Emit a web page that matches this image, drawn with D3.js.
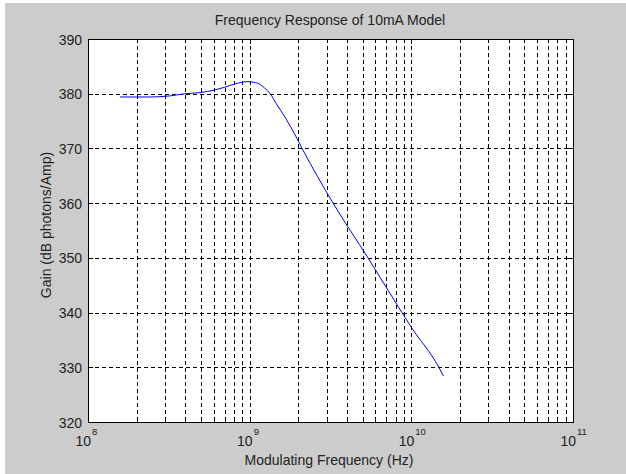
<!DOCTYPE html>
<html><head><meta charset="utf-8">
<script src="https://cdn.jsdelivr.net/npm/d3@7"></script>
<style>body{margin:0;background:#fff;}svg{display:block;}</style>
</head><body>
<script>
const freq = [1.58e8, 2.42e8, 3.21e8, 3.98e8, 4.93e8, 6.11e8, 7.04e8, 8.11e8, 8.97e8, 9.77e8, 1.06e9, 1.16e9, 1.24e9, 1.34e9, 1.46e9, 1.67e9, 1.90e9, 2.11e9, 3.28e9, 5.39e9, 8.75e9, 9.95e9, 1.48e10, 1.58e10];
const gain = [379.4, 379.4, 379.6, 380.0, 380.2, 380.7, 381.2, 381.8, 382.1, 382.2, 382.1, 381.7, 381.0, 380.0, 378.2, 375.5, 372.6, 370.0, 360.0, 350.0, 340.0, 337.4, 330.0, 328.4];
const yTicks = [320, 330, 340, 350, 360, 370, 380, 390];
const xDecades = [8, 9, 10, 11];
const title = "Frequency Response of 10mA Model";
const xLabel = "Modulating Frequency (Hz)";
const yLabel = "Gain (dB photons/Amp)";

const W = 626, H = 474;
const L = 88, R = 573, T = 39, B = 422;
const svg = d3.select("body").append("svg").attr("width", W).attr("height", H);
svg.append("rect").attr("width", W).attr("height", H).attr("fill", "#fff");
svg.append("rect").attr("x", 5).attr("y", 3).attr("width", W - 5).attr("height", H - 3).attr("fill", "#cccccc");

const x = d3.scaleLog().domain([1e8, 1e11]).range([L, R]);
const y = d3.scaleLinear().domain([320, 390]).range([B, T]);

svg.append("rect").attr("x", L).attr("y", T).attr("width", R - L).attr("height", B - T).attr("fill", "#fff");

// grid
const xGrid = [];
for (let d = 8; d < 11; d++) for (let m = 1; m <= 9; m++) xGrid.push(m * Math.pow(10, d));
xGrid.push(1e11);
const g = svg.append("g");
g.selectAll(".vg").data(xGrid.filter(v => v > 1e8 && v < 1e11)).join("line")
  .attr("x1", d => Math.round(x(d)) + 0.5).attr("x2", d => Math.round(x(d)) + 0.5)
  .attr("y1", T).attr("y2", B).attr("stroke", "#000").attr("stroke-width", 1).attr("stroke-dasharray", "4,3");
g.selectAll(".hg").data(yTicks.filter(v => v > 320 && v < 390)).join("line")
  .attr("y1", d => Math.round(y(d)) + 0.5).attr("y2", d => Math.round(y(d)) + 0.5)
  .attr("x1", L).attr("x2", R).attr("stroke", "#000").attr("stroke-width", 1).attr("stroke-dasharray", "4,3");

// ticks (inside)
const tk = svg.append("g").attr("stroke", "#000");
xGrid.forEach(v => {
  const major = Number.isInteger(Math.log10(v));
  const len = major ? 5 : 3;
  const px = Math.round(x(v)) + 0.5;
  tk.append("line").attr("x1", px).attr("x2", px).attr("y1", B).attr("y2", B - len);
  tk.append("line").attr("x1", px).attr("x2", px).attr("y1", T).attr("y2", T + len);
});
yTicks.forEach(v => {
  const py = Math.round(y(v)) + 0.5;
  tk.append("line").attr("x1", L).attr("x2", L + 5).attr("y1", py).attr("y2", py);
  tk.append("line").attr("x1", R).attr("x2", R - 5).attr("y1", py).attr("y2", py);
});

svg.append("rect").attr("x", L + 0.5).attr("y", T + 0.5).attr("width", R - L).attr("height", B - T)
  .attr("fill", "none").attr("stroke", "#000").attr("stroke-width", 1);

// line
const line = d3.line().x((d, i) => x(freq[i])).y(d => y(d)).curve(d3.curveMonotoneX);
svg.append("path").attr("d", line(gain)).attr("fill", "none").attr("stroke", "#0000ff").attr("stroke-width", 1);

const font = "'Liberation Sans', Arial, sans-serif";
const fs = 14;
// y tick labels
svg.selectAll(".yl").data(yTicks).join("text")
  .attr("x", L - 6).attr("y", d => y(d) + 5.5).attr("text-anchor", "end")
  .attr("font-family", font).attr("font-size", fs).attr("fill", "#222").text(d => d);

// x tick labels
xDecades.forEach(e => {
  const px = x(Math.pow(10, e));
  svg.append("text").attr("x", px + 3).attr("y", 446).attr("text-anchor", "end")
    .attr("font-family", font).attr("font-size", fs).attr("fill", "#222").text("10");
  svg.append("text").attr("x", px + 4).attr("y", 435).attr("text-anchor", "start")
    .attr("font-family", font).attr("font-size", 9.5).attr("fill", "#222").text(e);
});

svg.append("text").attr("x", 330).attr("y", 25).attr("text-anchor", "middle")
  .attr("font-family", font).attr("font-size", fs).attr("fill", "#222").text(title);
svg.append("text").attr("x", 329).attr("y", 465).attr("text-anchor", "middle")
  .attr("font-family", font).attr("font-size", fs).attr("fill", "#222").text(xLabel);
svg.append("text").attr("transform", "translate(51,225) rotate(-90)").attr("text-anchor", "middle")
  .attr("font-family", font).attr("font-size", fs).attr("fill", "#222").text(yLabel);
</script>
</body></html>
